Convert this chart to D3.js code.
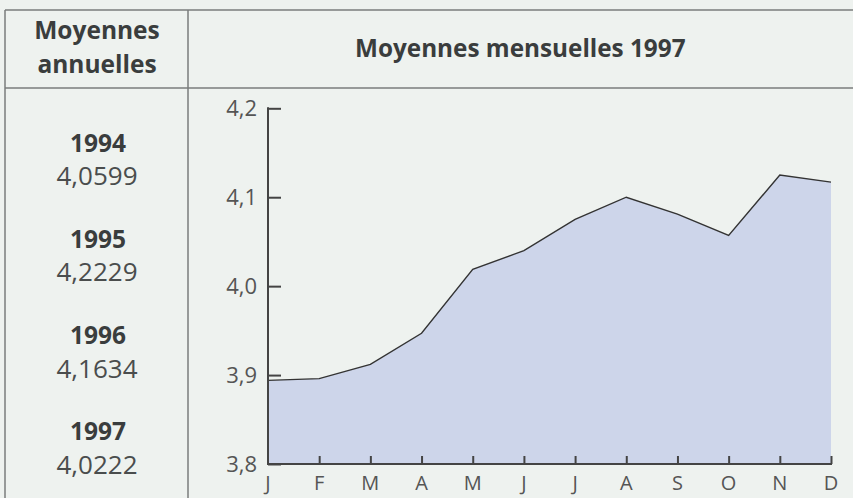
<!DOCTYPE html>
<html><head><meta charset="utf-8">
<script src="https://cdn.jsdelivr.net/npm/d3@7"></script>
<style>
html,body{margin:0;padding:0;background:#eef2ef;}
svg{display:block;font-family:"Open Sans",sans-serif;}
</style></head>
<body>
<svg id="c" width="853" height="498"></svg>
<script>
const months = ["J","F","M","A","M","J","J","A","S","O","N","D"];
const values = [3.894,3.896,3.912,3.947,4.019,4.040,4.075,4.100,4.081,4.057,4.125,4.117];
const yTicks = [3.8,3.9,4.0,4.1,4.2];
const years = ["1994","1995","1996","1997"];
const annual = ["4,0599","4,2229","4,1634","4,0222"];
const title = "Moyennes mensuelles 1997";
const leftHeader = ["Moyennes","annuelles"];

const svg = d3.select("#c");
const W = 853, H = 498;
const frame = "#7a7d7c";

// table frame
svg.append("line").attr("x1",5).attr("x2",W).attr("y1",10).attr("y2",10).attr("stroke",frame).attr("stroke-width",1.5);
svg.append("line").attr("x1",5).attr("x2",W).attr("y1",88).attr("y2",88).attr("stroke",frame).attr("stroke-width",1.5);
svg.append("line").attr("x1",5).attr("x2",5).attr("y1",10).attr("y2",H).attr("stroke",frame).attr("stroke-width",1.5);
svg.append("line").attr("x1",188).attr("x2",188).attr("y1",10).attr("y2",H).attr("stroke",frame).attr("stroke-width",1.5);

// headers
svg.append("g").selectAll("text").data(leftHeader).join("text")
  .attr("x",97).attr("y",(d,i)=>39+i*34).attr("text-anchor","middle")
  .attr("font-size",24.5).attr("font-weight","bold").attr("fill","#3a3d3d").text(d=>d);
svg.append("text").attr("x",355).attr("y",57).attr("font-size",24.3).attr("font-weight","bold")
  .attr("fill","#3a3d3d").text(title);

// annual
const ag = svg.append("g");
years.forEach((y,i)=>{
  ag.append("text").attr("x",98).attr("y",152+i*96.1).attr("text-anchor","middle")
    .attr("font-size",24.5).attr("font-weight","bold").attr("fill","#3a3d3d").text(y);
  ag.append("text").attr("x",97).attr("y",184.5+i*96.5).attr("text-anchor","middle")
    .attr("font-size",26).attr("fill","#4a4d4d").text(annual[i]);
});

// chart
const x = d3.scalePoint().domain(d3.range(12)).range([268,831]);
const y = d3.scaleLinear().domain([3.8,4.2]).range([464,108.3]);

const area = d3.area().x((d,i)=>x(i)).y0(y(3.8)).y1(d=>y(d));
const line = d3.line().x((d,i)=>x(i)).y(d=>y(d));
svg.append("path").datum(values).attr("d",area).attr("fill","#cdd5ea");
svg.append("path").datum(values).attr("d",line).attr("fill","none").attr("stroke","#333").attr("stroke-width",1.4);

const axisCol = "#444";
const yAxis = d3.axisRight(y).tickValues(yTicks).tickSize(13).tickFormat(()=>"");
const gy = svg.append("g").attr("transform","translate(268,0)").call(yAxis);
gy.select(".domain").remove();
gy.selectAll("line").attr("stroke",axisCol).attr("stroke-width",2);
svg.append("line").attr("x1",268).attr("x2",268).attr("y1",y(4.2)-1).attr("y2",y(3.8)+1).attr("stroke",axisCol).attr("stroke-width",2);
svg.append("g").selectAll("text").data(yTicks).join("text")
  .attr("x",257).attr("y",d=>y(d)).attr("dy","0.35em").attr("text-anchor","end")
  .attr("font-size",22).attr("fill","#555").text(d=>d3.format(".1f")(d).replace(".",","));

const xAxis = d3.axisTop(x).tickSize(8).tickFormat(()=>"");
const gx = svg.append("g").attr("transform","translate(0,464)").call(xAxis);
gx.select(".domain").remove();
gx.selectAll(".tick").filter(d=>d===0).remove();
gx.selectAll("line").attr("stroke",axisCol).attr("stroke-width",2);
svg.append("line").attr("x1",267).attr("x2",832).attr("y1",464).attr("y2",464).attr("stroke",axisCol).attr("stroke-width",2);
svg.append("g").selectAll("text").data(months).join("text")
  .attr("x",(d,i)=>x(i)).attr("y",490).attr("text-anchor","middle")
  .attr("font-size",20).attr("fill","#555").text(d=>d);
</script>
</body></html>
